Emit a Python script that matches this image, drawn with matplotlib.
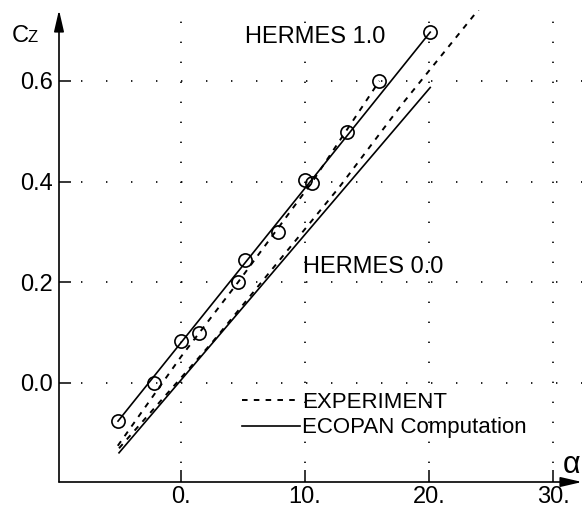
import matplotlib
matplotlib.use("Agg")
import matplotlib.pyplot as plt
from matplotlib.lines import Line2D

plt.rcParams['font.family'] = ['Liberation Sans', 'DejaVu Sans']
plt.rcParams['lines.scale_dashes'] = False

# ---- data ----
alpha_pts = [-5.08, -2.2, 0.0, 1.45, 4.6, 5.2, 7.8, 10.0, 10.6, 13.4, 16.0, 20.1]
cz_pts = [-0.076, 0.0, 0.084, 0.10, 0.20, 0.245, 0.299, 0.404, 0.398, 0.498, 0.599, 0.697]

alpha_h1_comp = [-5.08, 20.1]
cz_h1_comp = [-0.076, 0.697]

alpha_h0_comp = [-5.0, 20.1]
cz_h0_comp = [-0.139, 0.587]

alpha_h1_exp = [-5.1, 0.0, 4.6, 10.6, 16.0]
cz_h1_exp = [-0.125, 0.052, 0.20, 0.40, 0.60]

alpha_h0_exp = [-5.0, 2.5, 12.8, 17.8, 24.0]
cz_h0_exp = [-0.13, 0.08, 0.39, 0.553, 0.742]

xticks = [0, 10, 20, 30]
xticklabels = ['0.', '10.', '20.', '30.']
yticks = [0.0, 0.2, 0.4, 0.6]
yticklabels = ['0.0', '0.2', '0.4', '0.6']

W, H = 583, 516
fig = plt.figure(figsize=(W / 100, H / 100), dpi=100)
ax = fig.add_axes([59 / W, (H - 482) / H, (582 - 59) / W, (482 - 10) / H])
ax.set_xlim(-9.84, 32.34)
ax.set_ylim(-0.197, 0.741)

dash = (0, (4.0, 4.5))
ax.plot(alpha_h1_comp, cz_h1_comp, color='black', lw=1.2)
ax.plot(alpha_h0_comp, cz_h0_comp, color='black', lw=1.2)
ax.plot(alpha_h1_exp, cz_h1_exp, color='black', lw=1.4, linestyle=dash)
ax.plot(alpha_h0_exp, cz_h0_exp, color='black', lw=1.4, linestyle=dash)
ax.plot(alpha_pts, cz_pts, linestyle='none', marker='o', markersize=9.5,
        markerfacecolor='none', markeredgecolor='black', markeredgewidth=1.2)

# grid of sparse dots
ax.set_axisbelow(True)
ax.xaxis.grid(True, color='black', lw=1.2, linestyle=(0.72, (1.0, 13.4)))
ax.yaxis.grid(True, color='black', lw=1.2, linestyle=(2.16, (1.0, 17.0)))

ax.set_xticks(xticks)
ax.set_xticklabels(xticklabels)
ax.set_yticks(yticks)
ax.set_yticklabels(yticklabels)
ax.tick_params(axis='both', direction='in', length=8.6, width=1.1, labelsize=17, colors='black')
ax.tick_params(axis='x', pad=3)
ax.tick_params(axis='y', pad=4.3)

for s in ['top', 'right', 'left', 'bottom']:
    ax.spines[s].set_visible(False)

arrow_kw = dict(arrowstyle='-|>,head_length=0.65,head_width=0.15', lw=1.2, color='black',
                mutation_scale=20, shrinkA=0, shrinkB=0)
ax.annotate('', xy=(0, 1), xytext=(0, 0), xycoords='axes fraction',
            textcoords='axes fraction', arrowprops=arrow_kw, annotation_clip=False)
ax.annotate('', xy=(1, 0), xytext=(0, 0), xycoords='axes fraction',
            textcoords='axes fraction', arrowprops=arrow_kw, annotation_clip=False)

ax.text(5.2, 0.687, 'HERMES 1.0', fontsize=17, va='center', ha='left')
ax.text(9.84, 0.231, 'HERMES 0.0', fontsize=17, va='center', ha='left')

fig.text(12 / W, 1 - 42 / H, 'C', fontsize=17, va='baseline', ha='left')
fig.text(28 / W, 1 - 42 / H, 'Z', fontsize=12, va='baseline', ha='left')
fig.text(563 / W, 1 - 465 / H, 'α', fontsize=22, va='center', ha='left')

handles = [Line2D([], [], color='black', lw=1.4, linestyle=dash),
           Line2D([], [], color='black', lw=1.2)]
labels = ['EXPERIMENT', 'ECOPAN Computation']
ax.legend(handles, labels, loc='upper left', bbox_to_anchor=((242 - 59) / 523, (482 - 392) / 472),
          frameon=False, fontsize=16, handlelength=2.6, handletextpad=0.1,
          borderpad=0, borderaxespad=0, labelspacing=0.2)

fig.savefig('out.png', dpi=100)
